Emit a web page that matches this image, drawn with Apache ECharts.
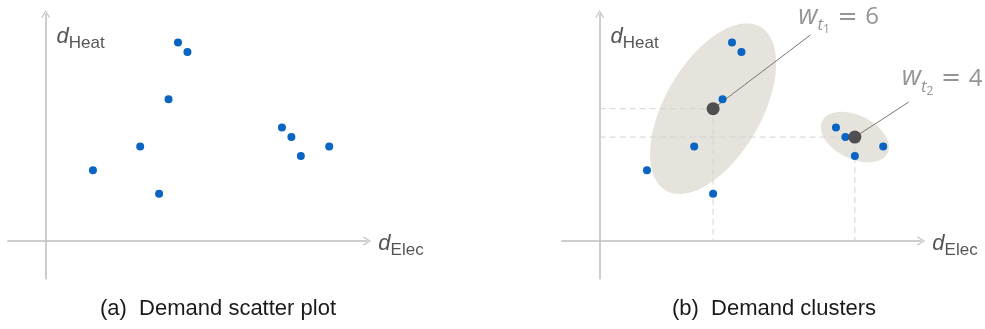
<!DOCTYPE html>
<html>
<head>
<meta charset="utf-8">
<script src="https://cdn.jsdelivr.net/npm/echarts@6/dist/echarts.min.js"></script>
<style>
  html, body { margin: 0; padding: 0; background: #ffffff; }
  #chart { width: 985px; height: 329px; }
</style>
</head>
<body>
<div id="chart"></div>
<script>
// Electricity / heat demand samples
const demandElec = [5, 10, 12, 13, 14, 15, 25, 26, 27, 30];
const demandHeat = [7.5, 10, 5, 15, 21, 20, 12, 11, 9, 10];

// Cluster representatives, their weights and spread ellipses
const clusterElec = [12, 27];
const clusterHeat = [14, 11];
const clusterWeight = [6, 4];
const clusterSemiMajor = [10, 3.85];
const clusterSemiMinor = [5.1, 2.3];
const clusterAngleDeg = [60, -26];

// Text
const axisSubscripts = ['Elec', 'Heat'];
const captions = ['(a)  Demand scatter plot', '(b)  Demand clusters'];

const points = demandElec.map((x, i) => [x, demandHeat[i]]);
const clusters = clusterElec.map((x, i) => [x, clusterHeat[i], clusterSemiMajor[i], clusterSemiMinor[i], clusterAngleDeg[i], clusterWeight[i]]);

// where each weight callout sits (data units of the right panel)
const calloutLine = [[22.3, 21.8], [32.7, 14.7]];
const calloutText = [[21.0, 25.2], [31.95, 18.7]];

const AXIS_GREY = '#bdbdbd';
const BLUE = '#0a64c2';
const CAPTION_FONT = '"Liberation Sans", Arial, sans-serif';
const MATH_FONT = '"Open Sans", "DejaVu Sans", sans-serif';
const CALLOUT_GREY = '#7b7b7b';

const chevron = 'path://M0,10 L6,0 L12,10 L10.9,10.9 L6,2.3 L1.1,10.9 Z';

function makeAxes(gridIndex) {
  const line = {
    show: true,
    onZero: true,
    symbol: ['none', chevron],
    symbolSize: [13, 8],
    lineStyle: { color: AXIS_GREY, width: 1.5 }
  };
  const common = {
    gridIndex,
    type: 'value',
    axisLine: line,
    axisTick: { show: false },
    axisLabel: { show: false },
    splitLine: { show: false }
  };
  return {
    x: Object.assign({ min: -4, max: 34 }, common),
    y: Object.assign({ min: -4, max: 24 }, common)
  };
}

const ax0 = makeAxes(0);
const ax1 = makeAxes(1);

const axisNameRich = {
  d: { fontFamily: CAPTION_FONT, fontStyle: 'italic', fontSize: 22, lineHeight: 22, color: '#2b2b2b', verticalAlign: 'top' },
  s: { fontFamily: CAPTION_FONT, fontSize: 17, lineHeight: 17, color: '#2b2b2b', verticalAlign: 'top', padding: [8.5, 0, 0, 0] }
};

function axisNameSeries(gridIndex) {
  return {
    type: 'scatter',
    xAxisIndex: gridIndex,
    yAxisIndex: gridIndex,
    symbolSize: 0,
    silent: true,
    clip: false,
    z: 6,
    data: [
      { value: [35.2, 0.85], name: axisSubscripts[0] },
      { value: [1.15, 22.75], name: axisSubscripts[1] }
    ],
    label: {
      show: true,
      position: [0, 0],
      align: 'left',
      verticalAlign: 'top',
      formatter: p => '{d|d}{s|' + p.name + '}',
      rich: axisNameRich
    }
  };
}

function sampleSeries(gridIndex) {
  return {
    type: 'scatter',
    xAxisIndex: gridIndex,
    yAxisIndex: gridIndex,
    symbol: 'circle',
    symbolSize: 8,
    itemStyle: { color: BLUE, opacity: 1 },
    silent: true,
    z: 4,
    data: points
  };
}

function caption(text, x) {
  return {
    type: 'text', x, y: 309,
    style: {
      text, font: '22px ' + CAPTION_FONT, fill: '#1a1a1a',
      textAlign: 'center', textVerticalAlign: 'middle', align: 'center', verticalAlign: 'middle'
    }
  };
}

const option = {
  animation: false,
  backgroundColor: '#ffffff',
  grid: [
    { left: 7.9, top: 14.2, width: 359.1, height: 264.6 },
    { left: 561.9, top: 14.2, width: 359.1, height: 264.6 }
  ],
  xAxis: [ax0.x, ax1.x],
  yAxis: [ax0.y, ax1.y],
  graphic: [caption(captions[0], 218), caption(captions[1], 774)],
  series: [
    // left panel
    sampleSeries(0),
    axisNameSeries(0),

    // right panel: spread ellipses
    {
      type: 'custom',
      xAxisIndex: 1,
      yAxisIndex: 1,
      silent: true,
      clip: false,
      z: 1,
      data: clusters,
      renderItem(params, api) {
        const cx = api.value(0), cy = api.value(1);
        const a = api.value(2), b = api.value(3);
        const th = api.value(4) * Math.PI / 180;
        const pts = [];
        for (let k = 0; k < 96; k++) {
          const t = 2 * Math.PI * k / 96;
          const dx = a * Math.cos(t) * Math.cos(th) - b * Math.sin(t) * Math.sin(th);
          const dy = a * Math.cos(t) * Math.sin(th) + b * Math.sin(t) * Math.cos(th);
          pts.push(api.coord([cx + dx, cy + dy]));
        }
        return { type: 'polygon', shape: { points: pts }, style: { fill: '#e5e3dc', stroke: null } };
      }
    },
    // right panel: projection guides and callout leaders
    {
      type: 'custom',
      xAxisIndex: 1,
      yAxisIndex: 1,
      silent: true,
      clip: false,
      z: 2,
      data: clusters,
      renderItem(params, api) {
        const c = api.coord([api.value(0), api.value(1)]);
        const o = api.coord([0, 0]);
        const e = api.coord(calloutLine[params.dataIndex]);
        const dash = { stroke: '#d3d3d3', lineWidth: 1, lineDash: [6, 4] };
        return {
          type: 'group',
          children: [
            { type: 'line', shape: { x1: o[0], y1: c[1], x2: c[0], y2: c[1] }, style: dash },
            { type: 'line', shape: { x1: c[0], y1: c[1], x2: c[0], y2: o[1] }, style: dash },
            { type: 'line', shape: { x1: c[0], y1: c[1], x2: e[0], y2: e[1] }, style: { stroke: '#777777', lineWidth: 1 } }
          ]
        };
      }
    },
    sampleSeries(1),
    // cluster representatives
    {
      type: 'scatter',
      xAxisIndex: 1,
      yAxisIndex: 1,
      symbol: 'circle',
      symbolSize: 13,
      itemStyle: { color: '#4f4f4f', opacity: 1 },
      silent: true,
      z: 5,
      data: clusters.map(c => [c[0], c[1]])
    },
    // weight callouts
    {
      type: 'scatter',
      xAxisIndex: 1,
      yAxisIndex: 1,
      symbolSize: 0,
      silent: true,
      clip: false,
      z: 6,
      data: clusterWeight.map((w, i) => ({ value: calloutText[i], name: String(i + 1) })),
      label: {
        show: true,
        position: [0, 0],
        align: 'left',
        verticalAlign: 'top',
        formatter: p => '{w|w}{t|t}{n|' + p.name + '}{e| = }{v|' + clusterWeight[p.dataIndex] + '}',
        rich: {
          w: { fontFamily: MATH_FONT, fontStyle: 'italic', fontSize: 27, lineHeight: 27, color: CALLOUT_GREY, verticalAlign: 'top' },
          t: { fontFamily: MATH_FONT, fontStyle: 'italic', fontSize: 17, lineHeight: 17, color: CALLOUT_GREY, verticalAlign: 'top', padding: [14, 0, 0, 0] },
          n: { fontFamily: MATH_FONT, fontSize: 12, lineHeight: 12, color: CALLOUT_GREY, verticalAlign: 'top', padding: [21, 0, 0, 0] },
          e: { fontFamily: '"DejaVu Sans", sans-serif', fontSize: 24, lineHeight: 24, color: CALLOUT_GREY, verticalAlign: 'top', padding: [2.5, 0, 0, 0] },
          v: { fontFamily: MATH_FONT, fontSize: 24, lineHeight: 24, color: CALLOUT_GREY, verticalAlign: 'top', padding: [2.5, 0, 0, 0] }
        }
      }
    },
    axisNameSeries(1)
  ]
};

const chart = echarts.init(document.getElementById('chart'), null, { renderer: 'canvas' });
chart.setOption(option);
</script>
</body>
</html>
